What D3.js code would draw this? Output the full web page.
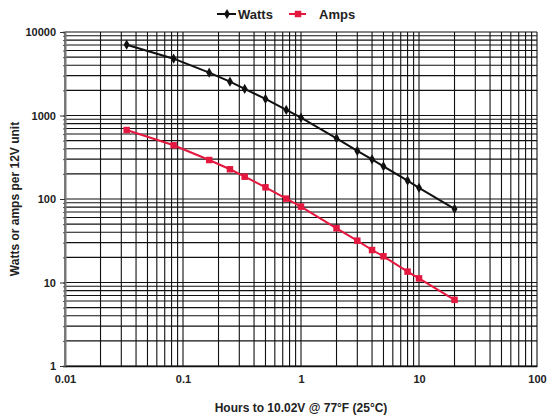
<!DOCTYPE html>
<html>
<head>
<meta charset="utf-8">
<script src="https://cdn.jsdelivr.net/npm/d3@7"></script>
<style>
  body { margin: 0; background: #fff; }
  text { font-family: "Liberation Sans", Arial, sans-serif; font-weight: bold; fill: #222; }
</style>
</head>
<body>
<script>
// hours of discharge (2, 5, 10, 15, 20, 30, 45 min, then hours)
var hours = [0.0333, 0.0833, 0.1667, 0.25, 0.3333, 0.5, 0.75, 1, 2, 3, 4, 5, 8, 10, 20];
var watts = [7050, 4790, 3260, 2540, 2080, 1580, 1165, 942, 533, 376, 299, 246, 166, 136, 76];
var amps = [670, 440, 293, 227, 185, 138, 101, 81, 44.6, 31.7, 24.5, 20.6, 13.5, 11.2, 6.2];
var xTicks = [0.01, 0.1, 1, 10, 100];
var yTicks = [1, 10, 100, 1000, 10000];

var width = 553, height = 419;
var margin = { left: 65, right: 16, top: 32, bottom: 53 };

var svg = d3.select('body')
  .append('svg')
  .attr('width', width)
  .attr('height', height);

var x = d3.scaleLog().domain([0.01, 100]).range([margin.left, width - margin.right]);
var y = d3.scaleLog().domain([1, 10000]).range([height - margin.bottom, margin.top]);

// every 1..9 of each decade for the grid
function decadeValues(lo, hi) {
  var out = [];
  for (var p = Math.log10(lo); p < Math.log10(hi); p++) {
    for (var m = 1; m < 10; m++) out.push(m * Math.pow(10, p));
  }
  out.push(hi);
  return out;
}
var xGrid = decadeValues(0.01, 100);
var yGrid = decadeValues(1, 10000);

var grid = svg.append('g').attr('class', 'grid');
grid.selectAll('.vline')
  .data(xGrid)
  .join('line')
  .attr('x1', d => x(d)).attr('x2', d => x(d))
  .attr('y1', y(10000)).attr('y2', y(1))
  .attr('stroke', '#111')
  .attr('stroke-width', 1.1);

grid.selectAll('.hline')
  .data(yGrid)
  .join('line')
  .attr('y1', d => y(d)).attr('y2', d => y(d))
  .attr('x1', x(0.01)).attr('x2', x(100))
  .attr('stroke', '#111')
  .attr('stroke-width', 1.1);

// left axis: major and minor ticks pointing out
svg.append('g')
  .attr('transform', 'translate(' + x(0.01) + ',0)')
  .call(d3.axisLeft(y).tickValues(yGrid).tickSize(2).tickFormat(''))
  .call(g => g.selectAll('line').attr('stroke', '#555'))
  .call(g => g.select('.domain').attr('stroke', '#777').attr('stroke-width', 2));

svg.append('g')
  .attr('transform', 'translate(' + x(0.01) + ',0)')
  .call(d3.axisLeft(y).tickValues(yTicks).tickSize(5).tickPadding(4).tickFormat(d3.format('d')))
  .call(g => g.select('.domain').remove())
  .call(g => g.selectAll('line').attr('stroke', '#333'))
  .call(g => g.selectAll('text').style('font-size', '11px').attr('fill', '#222'));

// bottom axis
svg.append('g')
  .attr('transform', 'translate(0,' + y(1) + ')')
  .call(d3.axisBottom(x).tickValues(xTicks).tickSize(0).tickPadding(9).tickFormat(d => String(d)))
  .call(g => g.select('.domain').attr('stroke', '#111').attr('stroke-width', 1.5))
  .call(g => g.selectAll('text').style('font-size', '11px').attr('fill', '#222'));

// series
var series = [
  { name: 'Watts', values: watts, color: '#111', marker: 'diamond' },
  { name: 'Amps', values: amps, color: '#e4173f', marker: 'square' }
];

var line = d3.line()
  .x(d => x(d[0]))
  .y(d => y(d[1]));

series.forEach(function (s) {
  var pts = hours.map((h, i) => [h, s.values[i]]);
  svg.append('path')
    .datum(pts)
    .attr('d', line)
    .attr('fill', 'none')
    .attr('stroke', s.color)
    .attr('stroke-width', 2);
  var sym = s.marker === 'diamond'
    ? d3.symbol().type(d3.symbolDiamond).size(30)
    : d3.symbol().type(d3.symbolSquare).size(42);
  svg.append('g').selectAll('path')
    .data(pts)
    .join('path')
    .attr('transform', d => 'translate(' + x(d[0]) + ',' + y(d[1]) + ')')
    .attr('d', sym)
    .attr('fill', s.color);
});

// legend
var legend = svg.append('g').attr('transform', 'translate(0,14)');
var legendX = [217, 289];
series.forEach(function (s, i) {
  var g = legend.append('g').attr('transform', 'translate(' + legendX[i] + ',0)');
  g.append('line')
    .attr('x1', 0).attr('x2', i === 0 ? 19 : 17)
    .attr('stroke', s.color).attr('stroke-width', 2);
  g.append('path')
    .attr('transform', 'translate(' + (i === 0 ? 10 : 9) + ',0)')
    .attr('d', s.marker === 'diamond'
      ? d3.symbol().type(d3.symbolDiamond).size(30)
      : d3.symbol().type(d3.symbolSquare).size(42))
    .attr('fill', s.color);
  g.append('text')
    .attr('x', i === 0 ? 21 : 30)
    .attr('y', 5)
    .style('font-size', '13px')
    .text(s.name);
});

// axis titles
svg.append('text')
  .attr('x', (x(0.01) + x(100)) / 2)
  .attr('y', 412)
  .attr('text-anchor', 'middle')
  .style('font-size', '12px')
  .text('Hours to 10.02V @ 77°F (25°C)');

svg.append('text')
  .attr('transform', 'translate(19,' + ((y(1) + y(10000)) / 2) + ') rotate(-90)')
  .attr('text-anchor', 'middle')
  .style('font-size', '12px')
  .text('Watts or amps per 12V unit');
</script>
</body>
</html>
